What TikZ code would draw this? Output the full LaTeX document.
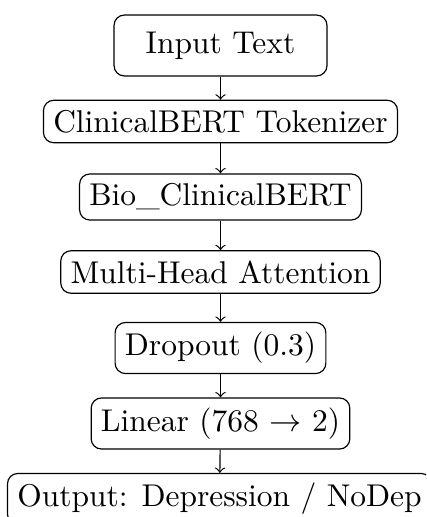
\documentclass[tikz,border=0pt]{standalone}
\begin{document}
\begin{tikzpicture}[
  x=0.34pt, y=-0.34pt,
  block/.style={draw, rounded corners=3.5pt, align=center, font=\fontsize{10.7}{12.8}\selectfont},
  flow/.style={->}
]
\useasboundingbox (0,0) rectangle (426,517);
\clip (0,0) rectangle (426,517);

\node[block, minimum width=72.4pt, minimum height=20.7pt] (input) at (220.5,45.5) {Input Text};
\node[block] (tok)  at (220.5,121.5) {ClinicalBERT Tokenizer};
\node[block] (bert) at (220.5,197)   {Bio\_ClinicalBERT};
\node[block] (mha)  at (220.5,272)   {Multi-Head Attention};
\node[block] (drop) at (220.5,348)   {Dropout (0.3)};
\node[block] (lin)  at (220.5,423.5) {Linear (768 $\to$ 2)};
\node[block] (out)  at (219.5,499)   {Output: Depression / NoDep};

\draw[flow] (input) -- (tok);
\draw[flow] (tok)   -- (bert);
\draw[flow] (bert)  -- (mha);
\draw[flow] (mha)   -- (drop);
\draw[flow] (drop)  -- (lin);
\draw[flow] (lin)   -- (out);
\end{tikzpicture}
\end{document}
